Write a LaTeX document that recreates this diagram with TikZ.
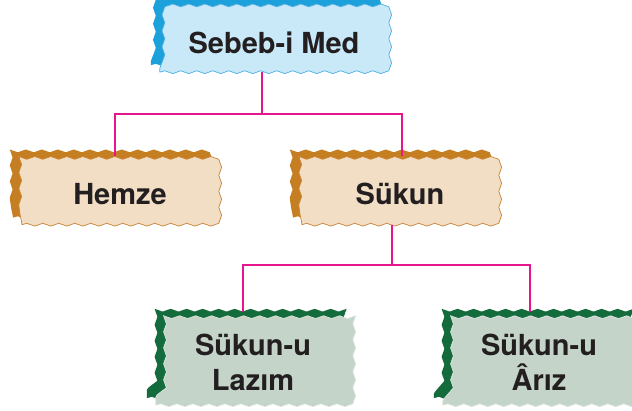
\documentclass[tikz,border=0pt]{standalone}
\usepackage{fontspec}
\setmainfont{TeX Gyre Heros}
\usetikzlibrary{decorations.pathmorphing,backgrounds}
\definecolor{bluefill}{HTML}{C9E9F9}
\definecolor{blueline}{HTML}{4AB0E2}
\definecolor{bluedark}{HTML}{1DA1DB}
\definecolor{tanfill}{HTML}{F2DEC5}
\definecolor{tanline}{HTML}{C98230}
\definecolor{tandark}{HTML}{C67E22}
\definecolor{greenfill}{HTML}{C4D4C8}
\definecolor{greenline}{HTML}{DCE5DE}
\definecolor{greendark}{HTML}{146B3B}
\definecolor{linkpink}{HTML}{E6178C}
\definecolor{textdark}{HTML}{231F20}
\tikzset{
  wavy/.style={decorate, decoration={snake, segment length=16pt, amplitude=1.4pt}},
  box/.style={align=center, text=textdark, inner sep=0pt,
    font=\fontsize{29}{35}\selectfont\bfseries},
  blue/.style={fill=bluefill, draw=blueline, line width=0.7pt},
  tan/.style={fill=tanfill, draw=tanline, line width=0.7pt},
  green/.style={fill=greenfill, draw=greenline, line width=0.7pt},
  link/.style={draw=linkpink, line width=1.8pt}
}
% name, x, y, width, height, colour, text
\newcommand{\wbox}[7]{ \node[box, minimum width=#4pt, minimum height=#5pt] (#1) at (#2,#3) {#7};
  \begin{pgfonlayer}{background}
  \fill[#6dark, wavy] ([shift={(-9pt,7pt)}]#1.south west) -- ([shift={(-9pt,7pt)}]#1.south east) -- ([shift={(-9pt,7pt)}]#1.north east) -- ([shift={(-9pt,7pt)}]#1.north west) -- cycle;
  \filldraw[#6, wavy] (#1.south west) -- (#1.south east) -- (#1.north east) -- (#1.north west) -- cycle;
  \end{pgfonlayer}}

\begin{document}
\begin{tikzpicture}[x=1pt, y=1pt]
        \useasboundingbox (0,0) rectangle (632,411);
        % boxes
        \wbox{med}{274}{368}{228}{58}{blue}{Sebeb-i Med}
        \wbox{hemze}{120}{217}{196}{61}{tan}{Hemze}
        \wbox{sukun}{400}{217}{196}{61}{tan}{Sükun}
        \wbox{lazim}{253}{49}{194}{86}{green}{Sükun-u\\Lazım}
        \wbox{ariz}{539}{49}{192}{86}{green}{Sükun-u\\Ârız}
        % links
        \draw[link] ([xshift=-12pt]med.south) -- ++(0,-42) -| ([shift={(-5pt,7pt)}]hemze.north);
        \draw[link] ([xshift=-12pt]med.south) -- ++(0,-42) -| ([shift={(2pt,7pt)}]sukun.north);
        \draw[link] ([xshift=-8pt]sukun.south) -- ++(0,-40) -| ([shift={(-10pt,7pt)}]lazim.north);
        \draw[link] ([xshift=-8pt]sukun.south) -- ++(0,-40) -| ([shift={(-9pt,7pt)}]ariz.north);
    \end{tikzpicture}
\end{document}
